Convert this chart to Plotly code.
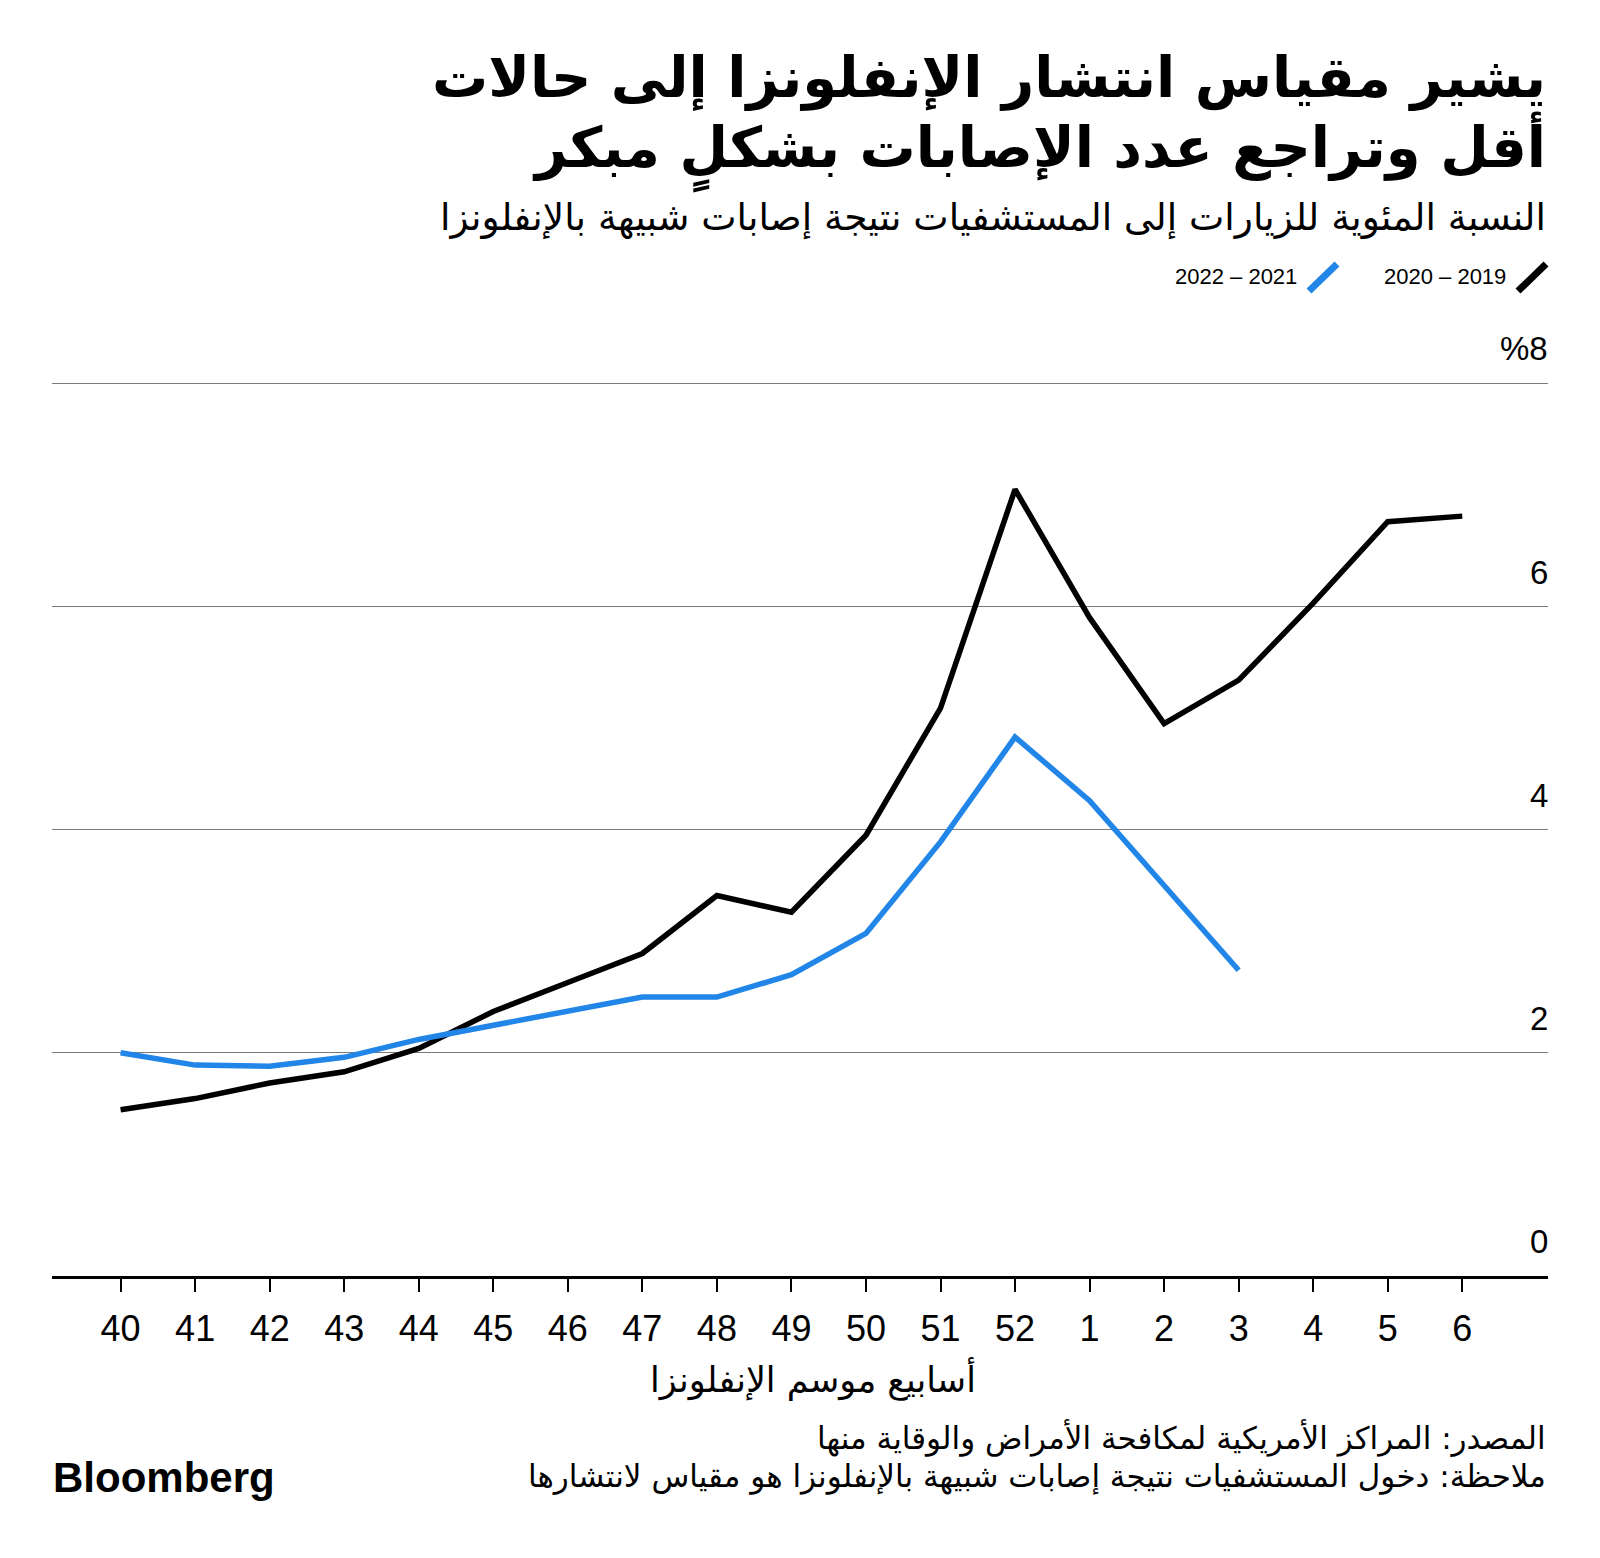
import plotly.graph_objects as go

weeks = ["40", "41", "42", "43", "44", "45", "46", "47", "48", "49", "50", "51", "52",
         "1", "2", "3", "4", "5", "6"]
season_2019_2020 = [1.49, 1.59, 1.73, 1.83, 2.04, 2.37, 2.63, 2.89, 3.41, 3.26, 3.95, 5.09, 7.05,
                    5.90, 4.95, 5.34, 6.03, 6.76, 6.81]
season_2021_2022 = [2.00, 1.89, 1.88, 1.96, 2.12, 2.25, 2.37, 2.50, 2.50, 2.70, 3.07, 3.89, 4.83,
                    4.26, 3.50, 2.74]
y_tick_vals = [0, 2, 4, 6, 8]
y_tick_text = ["0", "2", "4", "6", "%8"]
legend_labels = ["2020 – 2019", "2022 – 2021"]

title_lines = ["يشير مقياس انتشار الإنفلونزا إلى حالات", "أقل وتراجع عدد الإصابات بشكلٍ مبكر"]
subtitle = "النسبة المئوية للزيارات إلى المستشفيات نتيجة إصابات شبيهة بالإنفلونزا"
x_title = "أسابيع موسم الإنفلونزا"
source = "المصدر: المراكز الأمريكية لمكافحة الأمراض والوقاية منها"
note = "ملاحظة: دخول المستشفيات نتيجة إصابات شبيهة بالإنفلونزا هو مقياس لانتشارها"

# page body has an 8px margin; figure is sized so the page fits the 1600x1558 window
OFF = 8
W, H = 1600 - 2 * OFF, 1558 - 2 * OFF
PLOT_L, PLOT_R, PLOT_T, PLOT_B = 52, 1548, 382, 1276.5   # screen pixels
ML = PLOT_L - OFF
MR = W - (PLOT_R - OFF)
MT = PLOT_T - OFF
MB = H - (PLOT_B - OFF)
PW = W - ML - MR
PH = H - MT - MB

def px(x):
    return (x - OFF - ML) / PW

def py(y):
    return (H - MB - (y - OFF)) / PH

BLACK = "#000000"
BLUE = "#2186e8"
AR = "DejaVu Sans"
LAT = "Liberation Sans"

fig = go.Figure()
fig.add_trace(go.Scatter(x=weeks, y=season_2019_2020, mode="lines",
                         line=dict(color=BLACK, width=5.5), name=legend_labels[0],
                         showlegend=False))
fig.add_trace(go.Scatter(x=weeks[:len(season_2021_2022)], y=season_2021_2022, mode="lines",
                         line=dict(color=BLUE, width=5.5), name=legend_labels[1],
                         showlegend=False))

def note_ann(text, x, y, size, family=AR, xanchor="right"):
    return dict(text=text, x=px(x), y=py(y), xref="paper", yref="paper",
                xanchor=xanchor, yanchor="middle", showarrow=False,
                font=dict(family=family, size=size, color=BLACK))

annotations = [
    note_ann("<b>" + title_lines[0] + "</b>", 1548, 78, 56),
    note_ann("<b>" + title_lines[1] + "</b>", 1548, 152, 56),
    note_ann(subtitle, 1548, 217, 37.5),
    note_ann(legend_labels[0], 1508, 276, 22, LAT),
    note_ann(legend_labels[1], 1299, 276, 22, LAT),
    note_ann(x_title, 813, 1380, 35, AR, "center"),
    note_ann(source, 1548, 1439, 31),
    note_ann(note, 1548, 1477, 31),
    note_ann("<b>Bloomberg</b>", 51, 1478, 42, LAT, "left"),
]
for v, t in zip(y_tick_vals, y_tick_text):
    annotations.append(dict(text=t, x=1, y=v, xref="paper", yref="y", xanchor="right",
                            yanchor="bottom", yshift=14, xshift=2, showarrow=False,
                            font=dict(family=LAT, size=33, color=BLACK)))

shapes = [
    dict(type="line", xref="paper", yref="paper", x0=px(1518), y0=py(291), x1=px(1546), y1=py(264),
         line=dict(color=BLACK, width=7)),
    dict(type="line", xref="paper", yref="paper", x0=px(1309), y0=py(291), x1=px(1337), y1=py(264),
         line=dict(color=BLUE, width=7)),
]

fig.update_layout(
    width=W, height=H,
    margin=dict(l=ML, r=MR, t=MT, b=MB),
    paper_bgcolor="white", plot_bgcolor="white",
    annotations=annotations, shapes=shapes,
    showlegend=False,
    xaxis=dict(type="category", range=[-0.92, 19.15], showgrid=False, zeroline=False,
               showline=True, linecolor=BLACK, linewidth=3,
               ticks="outside", ticklen=13, tickwidth=2, tickcolor=BLACK,
               ticklabelstandoff=6,
               tickfont=dict(family=LAT, size=36, color=BLACK)),
    yaxis=dict(range=[0, 8.012], tickvals=y_tick_vals, showticklabels=False, showgrid=True,
               gridcolor="#7a7a7a", gridwidth=1, zeroline=False, showline=False, ticks=""),
)

fig.write_html("out.html")
